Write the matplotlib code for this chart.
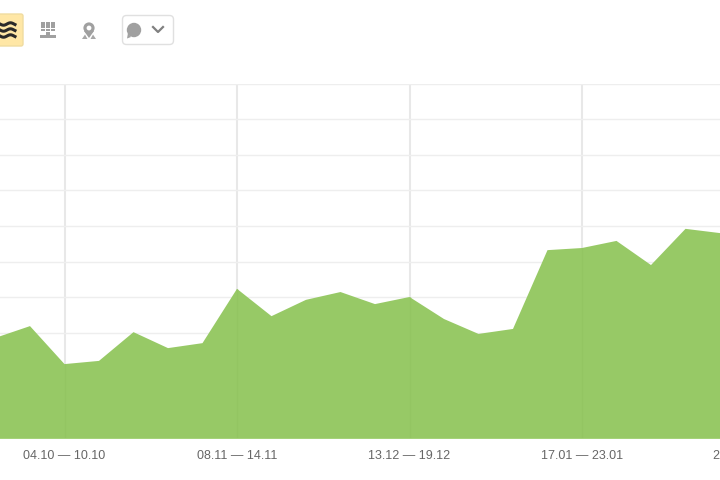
import numpy as np
import matplotlib
matplotlib.use('Agg')
import matplotlib.pyplot as plt
from matplotlib.patches import FancyBboxPatch, Rectangle, Circle, Polygon

plt.rcParams['font.family'] = ['Liberation Sans', 'DejaVu Sans']

# one point per week, first and last ones run off the picture
weeks = np.arange(-1, 22)
visits = [28.5, 31.8, 21.1, 22.0, 30.1, 25.6, 27.0, 42.3, 34.6, 39.2, 41.4, 38.0,
          40.0, 33.8, 29.6, 31.0, 53.2, 53.8, 55.8, 49.0, 59.2, 58.0, 57.0]
tick_weeks = [1, 6, 11, 16, 21]
tick_labels = ['04.10 — 10.10', '08.11 — 14.11', '13.12 — 19.12', '17.01 — 23.01', '21.02 — 27.02']
grid_values = np.arange(0, 101, 10)

W, H = 720, 480
fig = plt.figure(figsize=(W / 100, H / 100), dpi=100, facecolor='white')

# the plot is wider than the figure, the last label gets cut like in the reference
px_per_week = 34.5
left_px, right_px = -4.5, 64.5 + 20 * px_per_week
ax = fig.add_axes([left_px / W, 1 - 439 / H, (right_px - left_px) / W, (439 - 84) / H])
ax.set_xlim(-1, 21)
ax.set_ylim(0, 100)

ax.fill_between(weeks, visits, 0, color='#97c966', lw=0, zorder=3)
ax.set_xticks(tick_weeks)
ax.set_xticklabels(tick_labels, fontsize=9, color='#666666')
ax.set_yticks(grid_values)
ax.tick_params(axis='both', length=0, labelleft=False, pad=8)
ax.grid(axis='y', color='#eeeeee', lw=1.0, zorder=1)
ax.grid(axis='x', color='#e8e8e8', lw=1.5, zorder=1)
# grid shows faintly through the green area
ax.vlines(tick_weeks, 0, [visits[t + 1] for t in tick_weeks], color='#93c562', lw=1.0, zorder=4)
ax.axhline(0, color='#a9d47f', lw=1.2, zorder=5)
for s in ax.spines.values():
    s.set_visible(False)

# toolbar above the chart, in pixel coordinates
tb = fig.add_axes([0, 0, 1, 1], facecolor='none')
tb.set_xlim(0, W)
tb.set_ylim(H, 0)
tb.axis('off')

gray = '#a0a0a0'
tb.add_patch(FancyBboxPatch((-10, 14), 33, 32, boxstyle='round,pad=0,rounding_size=2',
                            fc='#ffe7a6', ec='#f0dca0', lw=1))
wave_x = np.linspace(0, 15, 30)
for y0 in [24, 30, 36]:
    tb.plot(wave_x, y0 + 1.2 * np.sin(wave_x * 0.45), color='#2a2a2a', lw=2.2)

for col in range(3):
    heights = [10, 13, 11][col]
    for k in range(heights // 3):
        tb.add_patch(Rectangle((40.5 + col * 5.2, 22 + k * 3.4), 4, 2.6, fc=gray, lw=0))
tb.add_patch(Rectangle((40, 35), 16, 3, fc=gray, lw=0))

tb.add_patch(Circle((89, 28), 5.6, fc=gray, lw=0))
tb.add_patch(Polygon([[84, 31], [94, 31], [89, 38]], fc=gray, lw=0))
tb.add_patch(Circle((89, 28), 2.4, fc='white', lw=0))
tb.add_patch(Polygon([[82, 39], [85, 34.5], [87.5, 39]], fc='#a8a8a8', lw=0))
tb.add_patch(Polygon([[90.5, 39], [93, 34.5], [96, 39]], fc='#a8a8a8', lw=0))

tb.add_patch(FancyBboxPatch((122.5, 15.5), 51, 29, boxstyle='round,pad=0,rounding_size=4',
                            fc='white', ec='#e0e0e0', lw=1))
tb.add_patch(Circle((134, 30), 7.2, fc=gray, lw=0))
tb.add_patch(Polygon([[128, 33], [131, 37], [127, 38.5]], fc=gray, lw=0))
tb.plot([153, 158, 163], [27, 32, 27], color='#808080', lw=1.6)

fig.savefig('out.png', dpi=100)
